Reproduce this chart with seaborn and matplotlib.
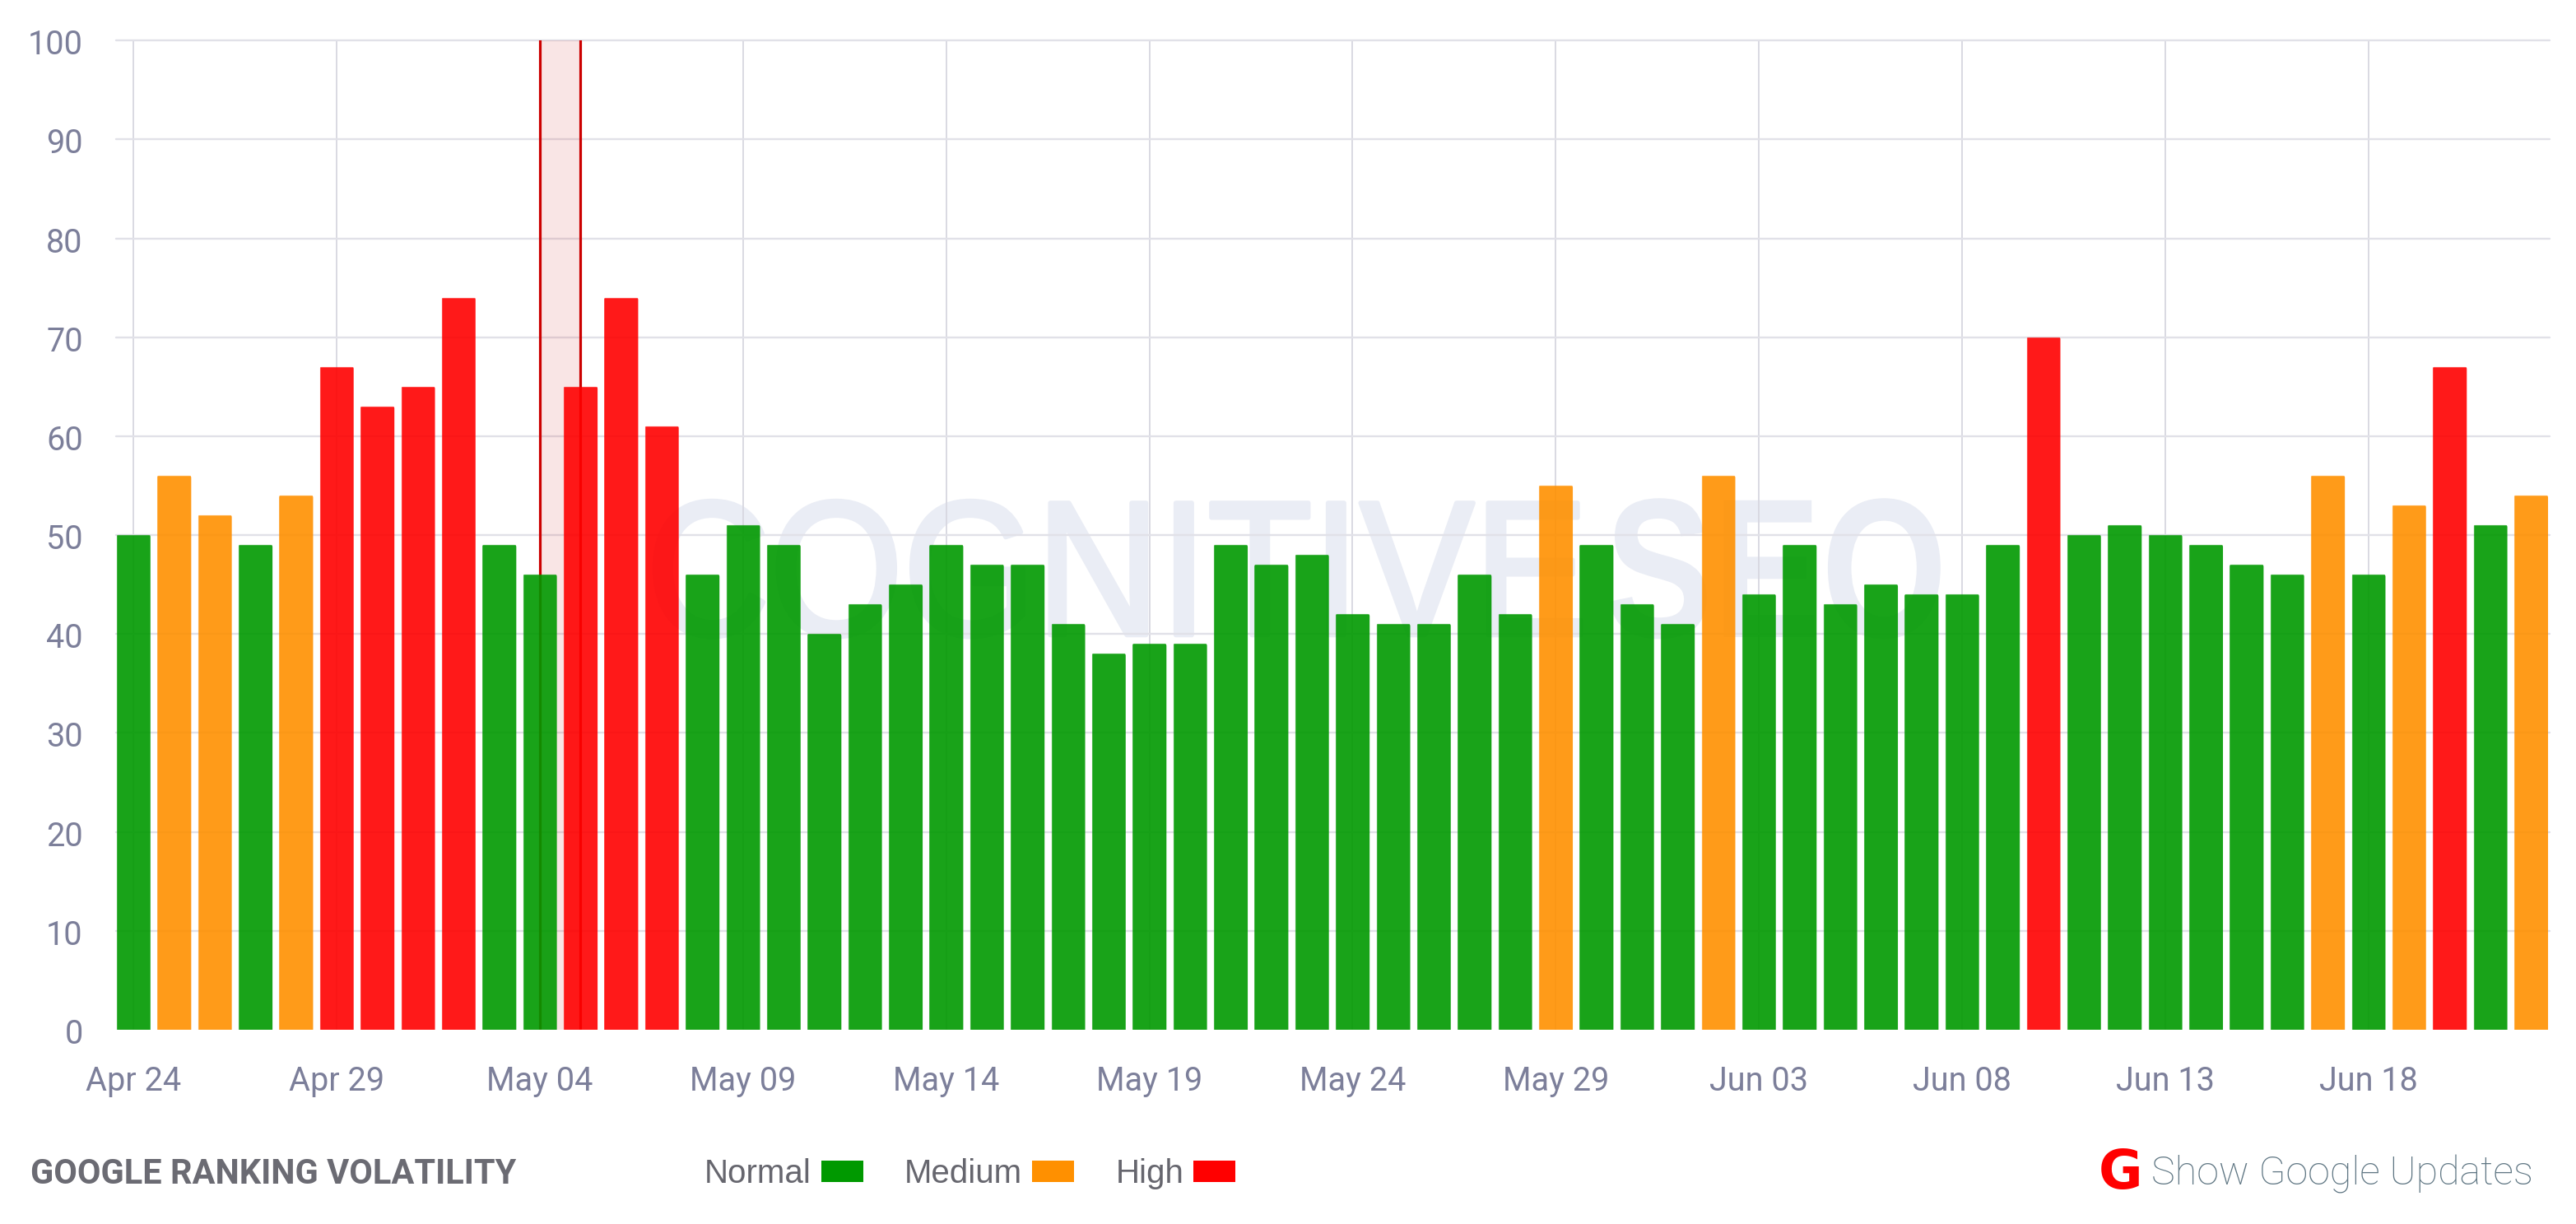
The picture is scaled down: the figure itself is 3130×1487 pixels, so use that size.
import matplotlib
matplotlib.use("Agg")
from matplotlib import pyplot as plt
from matplotlib.colors import to_rgba
from matplotlib.patches import FancyBboxPatch, Patch
from matplotlib.patheffects import AbstractPathEffect
from matplotlib.transforms import Affine2D, ScaledTranslation
import seaborn as sns

W, H = 3130, 1487

DAYS = [
    "Apr 24", "Apr 25", "Apr 26", "Apr 27", "Apr 28", "Apr 29", "Apr 30",
    "May 01", "May 02", "May 03", "May 04", "May 05", "May 06", "May 07", "May 08", "May 09",
    "May 10", "May 11", "May 12", "May 13", "May 14", "May 15", "May 16", "May 17", "May 18",
    "May 19", "May 20", "May 21", "May 22", "May 23", "May 24", "May 25", "May 26", "May 27",
    "May 28", "May 29", "May 30", "May 31",
    "Jun 01", "Jun 02", "Jun 03", "Jun 04", "Jun 05", "Jun 06", "Jun 07", "Jun 08", "Jun 09",
    "Jun 10", "Jun 11", "Jun 12", "Jun 13", "Jun 14", "Jun 15", "Jun 16", "Jun 17", "Jun 18",
    "Jun 19", "Jun 20", "Jun 21", "Jun 22",
]
VOLATILITY = [
    50, 56, 52, 49, 54, 67, 63,
    65, 74, 49, 46, 65, 74, 61, 46, 51,
    49, 40, 43, 45, 49, 47, 47, 41, 38,
    39, 39, 49, 47, 48, 42, 41, 41, 46,
    42, 55, 49, 43,
    41, 56, 44, 49, 43, 45, 44, 44, 49,
    70, 50, 51, 50, 49, 47, 46, 56, 46,
    53, 67, 51, 54,
]
LEVEL_NAMES = ["Normal", "Medium", "High"]
LEVEL_COLORS = ["#009900", "#ff9000", "#ff0000"]
UPDATE_START = "May 04"
UPDATE_END = "May 05"

N, M, R = LEVEL_NAMES
LEVELS = [
    N, M, M, N, M, R, R,
    R, R, N, N, R, R, R, N, N,
    N, N, N, N, N, N, N, N, N,
    N, N, N, N, N, N, N, N, N,
    N, M, N, N,
    N, M, N, N, N, N, N, N, N,
    R, N, N, N, N, N, N, M, N,
    M, R, N, M,
]

TICK_COLOR = "#7c7f9a"
GRID_COLOR = "#e1e1e8"
MARK_COLOR = "#eaedf5"


class Squeeze(AbstractPathEffect):
    # squeezes a text sideways around one x position, there is no narrow font installed
    def __init__(self, scale, anchor, stroke=0):
        super().__init__()
        self.squeeze = Affine2D().translate(-anchor, 0).scale(scale, 1).translate(anchor, 0)
        self.stroke = stroke

    def draw_path(self, renderer, gc, tpath, affine, rgbFace=None):
        gc0 = renderer.new_gc()
        gc0.copy_properties(gc)
        gc0.set_foreground(rgbFace)
        gc0.set_linewidth(self.stroke)
        renderer.draw_path(gc0, tpath, affine + self.squeeze, rgbFace)
        gc0.restore()


def px(x, y):
    # figure fraction from reference pixels
    return x / W, 1 - y / H


def watermark(ax, text, x_from, x_to, weight, size, baseline, stroke):
    # anchored on the inner edge so both words stay apart before squeezing
    fig = ax.figure
    ha = "right" if weight == "normal" else "left"
    anchor = x_to if ha == "right" else x_from
    x, y = px(anchor, baseline)
    label = ax.text(x, y, text, transform=fig.transFigure, va="baseline", ha=ha, color=MARK_COLOR,
                    fontsize=size, fontweight=weight, family="Liberation Sans", zorder=0.4)
    width = label.get_window_extent(fig.canvas.get_renderer()).width
    label.set_path_effects([Squeeze((x_to - x_from) / width, anchor, stroke)])


sns.set_theme(style="whitegrid", rc={
    "grid.color": GRID_COLOR,
    "grid.linewidth": 1.7,
    "axes.edgecolor": "white",
})
plt.rcParams["font.family"] = ["Roboto", "DejaVu Sans"]

fig = plt.figure(figsize=(W / 100, H / 100), dpi=100)
left, top = 141, 49.3
right, bottom = 3098, 1251
ax = fig.add_axes([left / W, 1 - bottom / H, (right - left) / W, (bottom - top) / H])

sns.barplot(x=DAYS, y=VOLATILITY, hue=LEVELS, order=DAYS, hue_order=LEVEL_NAMES,
            palette=dict(zip(LEVEL_NAMES, LEVEL_COLORS)), dodge=False, width=0.82,
            saturation=1, legend=False, ax=ax)

ax.set_xlim(-0.43, len(DAYS) - 1 + 0.46)
ax.set_ylim(0, 100)
ax.set_yticks(range(0, 101, 10))
ax.set_xticks(range(0, len(DAYS), 5))
ax.set_xticklabels(DAYS[::5])
ax.set_xlabel("")
ax.set_ylabel("")
ax.tick_params(axis="y", length=0, pad=29, labelsize=28.5, labelcolor=TICK_COLOR)
ax.tick_params(axis="x", length=0, pad=31, labelsize=28.5, labelcolor=TICK_COLOR)
ax.grid(axis="x", color="#d9d9e2", linewidth=1.4)
for spine in ax.spines.values():
    spine.set_visible(False)
for line in ax.get_ygridlines():
    line.set_clip_on(False)
ax.get_ygridlines()[0].set_visible(False)
nudge = ScaledTranslation(0, -1.5 / 100, fig.dpi_scale_trans)
for label in ax.get_yticklabels():
    label.set_transform(label.get_transform() + nudge)

# rounded tops and the lighter rim on the bars
aspect = (right - left) / (len(DAYS) - 1 + 0.89) / ((bottom - top) / 100)
for bar in ax.patches:
    if bar.get_height() <= 0:
        continue
    color = bar.get_facecolor()
    bar.set_alpha(None)
    bar.set_facecolor(to_rgba(color, 0.9))
    bar.set_edgecolor(to_rgba(color, 0.5))
    bar.set_linewidth(0.9)
    bar.set_zorder(2)
    clip = FancyBboxPatch((bar.get_x() - 0.01, -5), bar.get_width() + 0.02, bar.get_height() + 5.08,
                          boxstyle="round,pad=0,rounding_size=0.07", mutation_aspect=aspect,
                          transform=ax.transData)
    bar.set_clip_path(clip)

# highlighted google update
start, end = DAYS.index(UPDATE_START), DAYS.index(UPDATE_END)
ax.axvspan(start, end, color="#cc0000", alpha=0.1, lw=0, zorder=0.6)
for pos in (start, end):
    ax.axvline(pos, color="#cc0000", lw=2.3, zorder=0.7)

watermark(ax, "COGNITIVE", 785, 1930, "normal", 168, 771.5, 4)
watermark(ax, "SEO", 1950, 2366, "bold", 174, 774, 0)

# footer
x, y = px(37, 1426)
fig.text(x, y, "GOOGLE RANKING VOLATILITY", fontsize=29.9, fontweight="bold", color="#6b6b73", va="center")

handles = [Patch(facecolor=c, edgecolor="none", label=n) for n, c in zip(LEVEL_NAMES, LEVEL_COLORS)]
fig.legend(handles=handles, ncols=3, loc="center left", bbox_to_anchor=px(856, 1426), markerfirst=False,
           frameon=False, borderpad=0, borderaxespad=0, handlelength=1.27, handleheight=0.6,
           handletextpad=0.3, columnspacing=1.24,
           prop={"family": "Liberation Sans", "size": 29}, labelcolor="#66666e")

x, y = px(2550, 1444)
fig.text(x, y, "G", fontsize=47, fontweight="bold", family="DejaVu Sans", color="#ff0000", va="baseline")
x, y = px(2614, 1426)
fig.text(x, y, "Show Google Updates", fontsize=34.9, fontweight="light", color="#5f7683", va="center")

fig.savefig("out.png", dpi=100, facecolor="white")
